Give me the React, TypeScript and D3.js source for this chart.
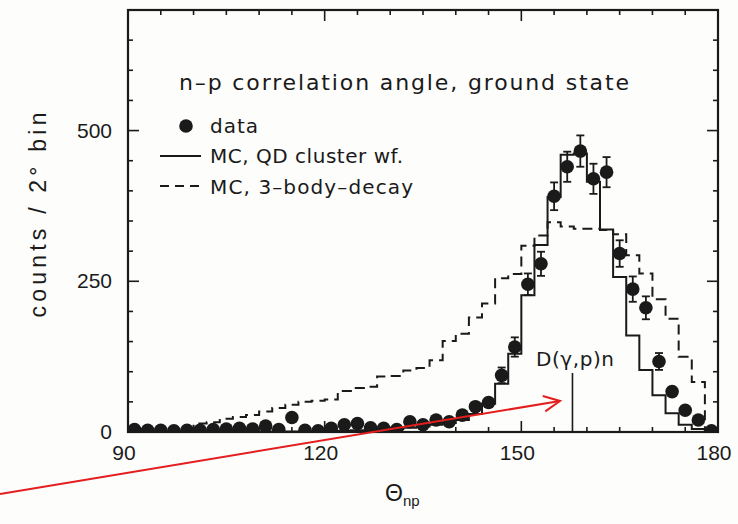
import React from 'react';
import * as d3 from 'd3';

const W = 738;
const H = 524;

// bin centres (2 degree bins)
const angles = [91, 93, 95, 97, 99, 101, 103, 105, 107, 109, 111, 113, 115, 117, 119, 121, 123, 125, 127, 129, 131, 133, 135, 137, 139, 141, 143, 145, 147, 149, 151, 153, 155, 157, 159, 161, 163, 165, 167, 169, 171, 173, 175, 177, 179];

const dataCounts = [4, 3, 3, 2, 3, 3, 4, 5, 6, 5, 10, 4, 24, 3, 2, 6, 12, 14, 7, 6, 4, 17, 12, 20, 17, 28, 42, 49, 94, 141, 245, 279, 391, 440, 466, 420, 431, 296, 237, 206, 117, 67, 36, 20, 2];
const dataErrors = [2, 2, 2, 2, 2, 2, 2, 2, 2, 2, 3, 2, 5, 2, 2, 2, 3, 4, 3, 3, 2, 4, 3, 5, 5, 6, 8, 9, 13, 16, 18, 20, 23, 25, 26, 25, 25, 22, 21, 19, 14, 9, 7, 5, 2];

const mcCluster = [0, 0, 0, 0, 0, 0, 0, 0, 1, 1, 1, 1, 1, 1, 1, 2, 2, 3, 3, 4, 5, 7, 9, 12, 15, 20, 30, 47, 80, 130, 227, 310, 390, 460, 462, 415, 336, 257, 160, 103, 61, 31, 12, 5, 1];
const mc3Body = [0, 0, 1, 0, 2, 14, 16, 22, 25, 28, 34, 40, 45, 50, 52, 54, 68, 73, 75, 92, 93, 102, 106, 119, 151, 163, 190, 213, 255, 262, 309, 326, 348, 341, 337, 337, 335, 328, 293, 263, 220, 188, 125, 83, 3];

const xMajorTicks = [90, 120, 150, 180];
const yMajorTicks = [0, 250, 500];
const titleText = 'n\u2013p correlation angle, ground state';
const legendLabels = ['data', 'MC, QD cluster wf.', 'MC, 3\u2013body\u2013decay'];
const yAxisLabel = 'counts / 2\u00b0 bin';
const annotationText = 'D(\u03b3,p)n';
const annotationAngle = 157.8;

export default function App() {
  const x = d3.scaleLinear().domain([90, 180]).range([128, 718]);
  const y = d3.scaleLinear().domain([0, 700]).range([432, 10]);
  const [x0, x1] = x.range();
  const [yb, yt] = y.range();

  const histPath = (vals: number[]) => {
    const pts: [number, number][] = vals.map((v, i) => [angles[i] - 1, v]);
    pts.push([angles[angles.length - 1] + 1, vals[vals.length - 1]]);
    return d3
      .line<[number, number]>()
      .x((d) => x(d[0]))
      .y((d) => y(d[1]))
      .curve(d3.curveStepAfter)(pts) as string;
  };

  const xMinor = d3.range(90, 181, 5).filter((v) => !xMajorTicks.includes(v));
  const yMinor = d3.range(0, 701, 50).filter((v) => !yMajorTicks.includes(v) && v < 700);

  const r = 6.8;
  const ink = '#1a1a1a';
  const red = '#e41e1e';

  // red arrow
  const ax0 = 0, ay0 = 494, ax1 = 560, ay1 = 401;
  const ang = Math.atan2(ay1 - ay0, ax1 - ax0);
  const hl = 18, ha = 0.45;
  const h1 = [ax1 - hl * Math.cos(ang - ha), ay1 - hl * Math.sin(ang - ha)];
  const h2 = [ax1 - hl * Math.cos(ang + ha), ay1 - hl * Math.sin(ang + ha)];

  const textFont = "'DejaVu Sans', sans-serif";
  const numFont = "'Liberation Sans', Arial, sans-serif";

  return (
    <svg width={W} height={H} style={{ position: 'absolute', left: 0, top: 0 }}>
      <rect x={0} y={0} width={W} height={H} fill="#fdfdfb" />
      <defs>
        <clipPath id="plotclip">
          <rect x={x0} y={yt} width={x1 - x0} height={yb - yt} />
        </clipPath>
      </defs>

      <g clipPath="url(#plotclip)">
        <path d={histPath(mc3Body)} fill="none" stroke={ink} strokeWidth={2} strokeDasharray="10,6" />
        <path d={histPath(mcCluster)} fill="none" stroke={ink} strokeWidth={2} />
        {angles.map((a, i) => {
          const cx = x(a);
          const cy = y(dataCounts[i]);
          const e = dataErrors[i];
          const yTop = y(dataCounts[i] + e);
          const yBot = y(dataCounts[i] - e);
          const showErr = cy - yTop > r;
          return (
            <g key={a}>
              {showErr && (
                <g stroke={ink} strokeWidth={1.8}>
                  <line x1={cx} x2={cx} y1={yTop} y2={yBot} />
                  <line x1={cx - 4} x2={cx + 4} y1={yTop} y2={yTop} />
                  <line x1={cx - 4} x2={cx + 4} y1={yBot} y2={yBot} />
                </g>
              )}
              <circle cx={cx} cy={cy} r={r} fill={ink} />
            </g>
          );
        })}
      </g>

      {/* frame */}
      <rect x={x0} y={yt} width={x1 - x0} height={yb - yt} fill="none" stroke={ink} strokeWidth={2.2} />

      {/* ticks */}
      <g stroke={ink} strokeWidth={1.6}>
        {xMajorTicks.map((t) => (
          <g key={'xm' + t}>
            <line x1={x(t)} x2={x(t)} y1={yb} y2={yb - 11} />
            <line x1={x(t)} x2={x(t)} y1={yt} y2={yt + 11} />
          </g>
        ))}
        {xMinor.map((t) => (
          <g key={'xn' + t}>
            <line x1={x(t)} x2={x(t)} y1={yb} y2={yb - 5} />
            <line x1={x(t)} x2={x(t)} y1={yt} y2={yt + 5} />
          </g>
        ))}
        {yMajorTicks.map((t) => (
          <g key={'ym' + t}>
            <line x1={x0} x2={x0 + 11} y1={y(t)} y2={y(t)} />
            <line x1={x1} x2={x1 - 11} y1={y(t)} y2={y(t)} />
          </g>
        ))}
        {yMinor.map((t) => (
          <g key={'yn' + t}>
            <line x1={x0} x2={x0 + 5} y1={y(t)} y2={y(t)} />
            <line x1={x1} x2={x1 - 5} y1={y(t)} y2={y(t)} />
          </g>
        ))}
      </g>

      {/* tick labels */}
      <g fontFamily={numFont} fontSize={21} fill={ink}>
        {xMajorTicks.map((t) => (
          <text key={'xl' + t} x={x(t) - 4} y={460} textAnchor="middle">
            {t}
          </text>
        ))}
        {yMajorTicks.map((t) => (
          <text key={'yl' + t} x={112} y={y(t) + 7} textAnchor="end">
            {t}
          </text>
        ))}
      </g>

      {/* axis labels */}
      <text
        transform={`translate(${46},${215}) rotate(-90)`}
        textAnchor="middle"
        fontFamily={numFont}
        fontSize={23}
        fill={ink}
        textLength={205}
        lengthAdjust="spacing"
      >
        {yAxisLabel}
      </text>
      <text x={385} y={501} fontFamily={numFont} fontSize={23} fill={ink}>
        Θ<tspan fontSize={15} dy={5}>np</tspan>
      </text>

      {/* title */}
      <text x={404} y={90} textAnchor="middle" fontFamily={textFont} fontSize={22} fill={ink} textLength={450} lengthAdjust="spacing">
        {titleText}
      </text>

      {/* legend */}
      <circle cx={186} cy={126} r={r} fill={ink} />
      <text x={210} y={133} fontFamily={textFont} fontSize={20} fill={ink} textLength={48} lengthAdjust="spacing">
        {legendLabels[0]}
      </text>
      <line x1={160} x2={201} y1={156} y2={156} stroke={ink} strokeWidth={2} />
      <text x={210} y={163} fontFamily={textFont} fontSize={20} fill={ink} textLength={193} lengthAdjust="spacing">
        {legendLabels[1]}
      </text>
      <line x1={160} x2={201} y1={186} y2={186} stroke={ink} strokeWidth={2} strokeDasharray="9,6" />
      <text x={210} y={194} fontFamily={textFont} fontSize={20} fill={ink} textLength={203} lengthAdjust="spacing">
        {legendLabels[2]}
      </text>

      {/* D(gamma,p)n annotation */}
      <line x1={x(annotationAngle)} x2={x(annotationAngle)} y1={373} y2={yb} stroke={ink} strokeWidth={1.6} />
      <text x={575} y={366} textAnchor="middle" fontFamily={textFont} fontSize={20} fill={ink} textLength={78} lengthAdjust="spacing">
        {annotationText}
      </text>

      {/* red arrow */}
      <g stroke={red} strokeWidth={2} fill="none">
        <line x1={ax0} y1={ay0} x2={ax1} y2={ay1} />
        <polyline points={`${h1[0]},${h1[1]} ${ax1},${ay1} ${h2[0]},${h2[1]}`} />
      </g>
    </svg>
  );
}
